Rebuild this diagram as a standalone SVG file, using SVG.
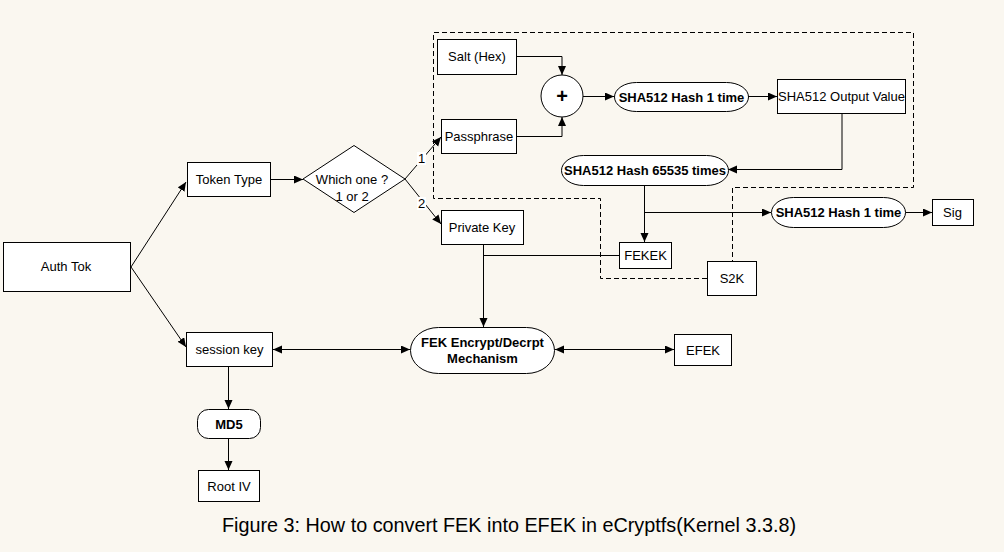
<svg xmlns="http://www.w3.org/2000/svg" width="1004" height="552" viewBox="0 0 1004 552">
<style>
.box{fill:#fff;stroke:#000;stroke-width:1}
.t{font-family:"Liberation Sans",Arial,sans-serif;font-size:13px;fill:#000;text-anchor:middle}
.b{font-weight:bold}
.c{fill:none;stroke:#000;stroke-width:1}
.a{marker-end:url(#ah)}
.d{marker-start:url(#ah);marker-end:url(#ah)}
.dash{fill:none;stroke:#000;stroke-width:1;stroke-dasharray:5,3}
</style>
<defs>
<marker id="ah" markerUnits="userSpaceOnUse" markerWidth="10" markerHeight="10" refX="9" refY="4" orient="auto-start-reverse">
<path d="M0,0 L9,4 L0,8 Z" fill="#000"/>
</marker>
</defs>
<rect x="0" y="0" width="1004" height="552" fill="#FAF7F0"/>

<g id="boundary">
<path class="dash" d="M707,278.5 H600.5 V198.5 H433.5 V32.5 H913.5 V187.5 H732.5 V261"/>
</g>

<g id="connectors">
<path class="c a" d="M517,56.5 H562 V75"/>
<path class="c a" d="M517,136.5 H562 V117"/>
<path class="c a" d="M583,96.5 H614"/>
<path class="c a" d="M748,96.5 H777"/>
<path class="c a" d="M842,113 V169.5 H728"/>
<path class="c a" d="M644.5,185 V242"/>
<path class="c a" d="M644.5,212.5 H771"/>
<path class="c a" d="M905,212.5 H932"/>
<path class="c a" d="M131,267 L186,182"/>
<path class="c a" d="M131,267 L186,347"/>
<path class="c a" d="M271,179.5 H303"/>
<path class="c a" d="M405,179 L441,137"/>
<path class="c a" d="M405,179 L441,224"/>
<path class="c" d="M483,255.5 H619"/>
<path class="c a" d="M483.5,244 V327"/>
<path class="c d" d="M273,349.5 H410"/>
<path class="c d" d="M555,349.5 H674"/>
<path class="c a" d="M228.5,366 V409"/>
<path class="c a" d="M228.5,438 V470"/>
<rect x="417" y="152" width="9" height="13" fill="#fff"/>
<text class="t" x="421.5" y="163">1</text>
<rect x="417" y="197" width="9" height="13" fill="#fff"/>
<text class="t" x="421.5" y="208">2</text>
</g>

<g id="salt">
<rect class="box" x="437.5" y="39.5" width="79" height="35"/>
<text class="t" x="477" y="61">Salt (Hex)</text>
</g>
<g id="passphrase">
<rect class="box" x="441.5" y="119.5" width="75" height="34"/>
<text class="t" x="479" y="141">Passphrase</text>
</g>
<g id="plus">
<circle class="box" cx="562" cy="96" r="21"/>
<text class="t b" x="562" y="103" style="font-size:20px">+</text>
</g>
<g id="sha1">
<rect class="box" x="614.5" y="82.5" width="134" height="29" rx="22" ry="14.5"/>
<text class="t b" x="681.5" y="101.5">SHA512 Hash 1 time</text>
</g>
<g id="shaout">
<rect class="box" x="777.5" y="79.5" width="128" height="34"/>
<text class="t" x="841.5" y="101">SHA512 Output Value</text>
</g>
<g id="sha65535">
<rect class="box" x="561.5" y="155.5" width="167" height="30" rx="22" ry="15"/>
<text class="t b" x="645" y="175">SHA512 Hash 65535 times</text>
</g>
<g id="authtok">
<rect class="box" x="3.5" y="242.5" width="127" height="49"/>
<text class="t" x="66" y="271">Auth Tok</text>
</g>
<g id="tokentype">
<rect class="box" x="187.5" y="162.5" width="83" height="34"/>
<text class="t" x="229" y="184">Token Type</text>
</g>
<g id="which">
<path class="box" d="M303,179 L354,145.5 L405,179 L354,212.5 Z"/>
<text class="t" x="352" y="184">Which one ?</text>
<text class="t" x="352" y="200.5">1 or 2</text>
</g>
<g id="privatekey">
<rect class="box" x="441.5" y="210.5" width="82" height="34"/>
<text class="t" x="482" y="231.5">Private Key</text>
</g>
<g id="fekek">
<rect class="box" x="619.5" y="242.5" width="52" height="26"/>
<text class="t" x="645.5" y="259.5">FEKEK</text>
</g>
<g id="s2k">
<rect class="box" x="707.5" y="261.5" width="49" height="34"/>
<text class="t" x="732" y="283">S2K</text>
</g>
<g id="sha1b">
<rect class="box" x="771.5" y="197.5" width="134" height="30" rx="22" ry="15"/>
<text class="t b" x="838.5" y="217">SHA512 Hash 1 time</text>
</g>
<g id="sig">
<rect class="box" x="932.5" y="199.5" width="41" height="26"/>
<text class="t" x="952.5" y="217">Sig</text>
</g>
<g id="sessionkey">
<rect class="box" x="186.5" y="332.5" width="86" height="34"/>
<text class="t" x="229.5" y="354">session key</text>
</g>
<g id="fekmech">
<rect class="box" x="410.5" y="327.5" width="144" height="46" rx="28" ry="23"/>
<text class="t b" x="482.5" y="347">FEK Encrypt/Decrpt</text>
<text class="t b" x="482.5" y="363">Mechanism</text>
</g>
<g id="efek">
<rect class="box" x="674.5" y="334.5" width="57" height="31"/>
<text class="t" x="703" y="354.5">EFEK</text>
</g>
<g id="md5">
<rect class="box" x="197.5" y="409.5" width="63" height="29" rx="11" ry="11"/>
<text class="t b" x="229" y="428.5">MD5</text>
</g>
<g id="rootiv">
<rect class="box" x="198.5" y="470.5" width="61" height="31"/>
<text class="t" x="229" y="491">Root IV</text>
</g>
<g id="caption">
<text class="t" x="509" y="532" style="font-size:21px" textLength="574" lengthAdjust="spacingAndGlyphs">Figure 3: How to convert FEK into EFEK in eCryptfs(Kernel 3.3.8)</text>
</g>
</svg>
